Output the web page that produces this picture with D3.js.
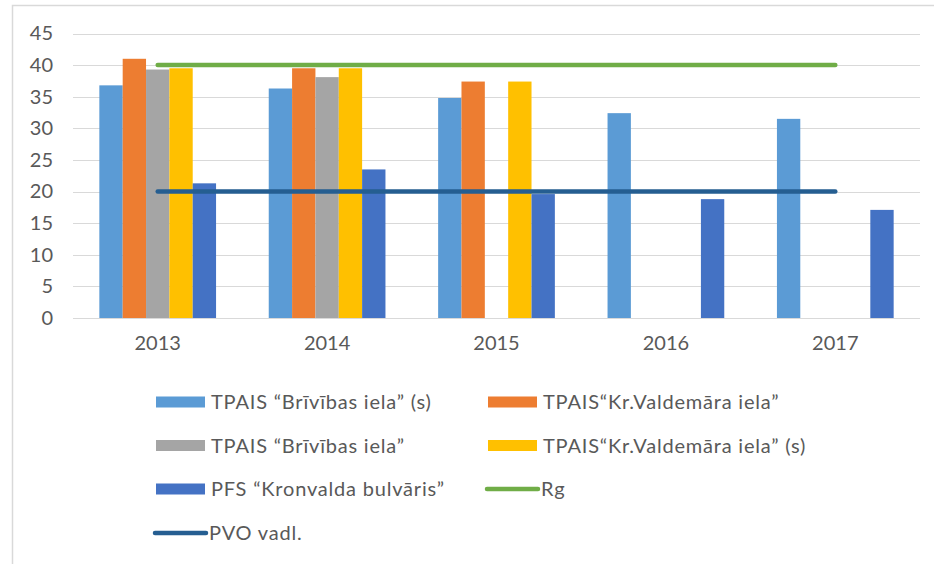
<!DOCTYPE html>
<html>
<head>
<meta charset="utf-8">
<script src="https://cdn.jsdelivr.net/npm/d3@7"></script>
<style>
  html, body { margin: 0; padding: 0; background: #fff; }
  svg { display: block; }
  text { font-family: Lato, "Open Sans", sans-serif; fill: #595959; }
</style>
</head>
<body>
<svg id="chart" width="934" height="564"></svg>
<script>
// ---- data ----
const years = ["2013", "2014", "2015", "2016", "2017"];
const barSeries = [
  "TPAIS \u201CBrīvības iela\u201D (s)",
  "TPAIS\u201CKr.Valdemāra iela\u201D",
  "TPAIS \u201CBrīvības iela\u201D",
  "TPAIS\u201CKr.Valdemāra iela\u201D (s)",
  "PFS \u201CKronvalda bulvāris\u201D"
];
const brivibasS   = [36.8, 36.3, 34.8, 32.4, 31.5];
const valdemara   = [41.0, 39.5, 37.4, null, null];
const brivibas    = [39.3, 38.1, null, null, null];
const valdemaraS  = [39.5, 39.5, 37.4, null, null];
const kronvalda   = [21.3, 23.5, 19.6, 18.8, 17.1];
const barValues = [brivibasS, valdemara, brivibas, valdemaraS, kronvalda];

const lineSeries = ["Rg", "PVO vadl."];
const rgValues  = [40, 40, 40, 40, 40];
const pvoValues = [20, 20, 20, 20, 20];
const lineValues = [rgValues, pvoValues];

const yTicks = [0, 5, 10, 15, 20, 25, 30, 35, 40, 45];

const barColors  = ["#5b9bd5", "#ed7d31", "#a5a5a5", "#ffc000", "#4472c4"];
const lineColors = ["#70ad47", "#255e91"];

// ---- layout ----
const svg = d3.select("#chart");
const plot = { left: 73, right: 920, top: 33.5, bottom: 318 };

// chart border (left + top visible)
svg.append("path")
  .attr("d", "M12.5,564 L12.5,5.5 L934,5.5")
  .attr("fill", "none").attr("stroke", "#d9d9d9").attr("stroke-width", 1.5);

const x = d3.scaleBand().domain(years).range([plot.left, plot.right])
  .paddingInner(0.311).paddingOuter(0.1555);
const xs = d3.scaleBand().domain(d3.range(barSeries.length)).range([0, x.bandwidth()]);
const y = d3.scaleLinear().domain([0, 45]).range([plot.bottom, plot.top]);

// gridlines
svg.append("g").selectAll("line").data(yTicks).join("line")
  .attr("x1", plot.left).attr("x2", plot.right)
  .attr("y1", d => Math.round(y(d)) + 0.5).attr("y2", d => Math.round(y(d)) + 0.5)
  .attr("stroke", "#d9d9d9").attr("stroke-width", 1.2);

// y axis labels
const yAxis = d3.axisLeft(y).tickValues(yTicks).tickSize(0).tickPadding(0);
const gy = svg.append("g").attr("transform", `translate(${plot.left - 20},0)`).call(yAxis);
gy.select(".domain").remove();
gy.selectAll("text").attr("font-size", 20).style("fill", "#595959")
  .style("font-family", "Lato, sans-serif");

// x axis labels
const xAxis = d3.axisBottom(x).tickSize(0).tickPadding(0);
const gx = svg.append("g").attr("transform", `translate(0,${plot.bottom + 18})`).call(xAxis);
gx.select(".domain").remove();
gx.selectAll("text").attr("font-size", 20).style("fill", "#595959")
  .style("font-family", "Lato, sans-serif");

// bars
barValues.forEach((vals, si) => {
  svg.append("g").selectAll("rect")
    .data(years.map((yr, i) => ({ yr, v: vals[i] })).filter(d => d.v != null))
    .join("rect")
    .attr("x", d => x(d.yr) + xs(si))
    .attr("width", xs.bandwidth())
    .attr("y", d => y(d.v))
    .attr("height", d => y(0) - y(d.v))
    .attr("fill", barColors[si]);
});

// lines
const line = d3.line()
  .x((d, i) => x(years[i]) + x.bandwidth() / 2)
  .y(d => y(d));
lineValues.forEach((vals, li) => {
  svg.append("path").datum(vals)
    .attr("d", line)
    .attr("fill", "none")
    .attr("stroke", lineColors[li])
    .attr("stroke-width", 4.5)
    .attr("stroke-linecap", "round");
});

// legend
const legendItems = [
  { name: barSeries[0], type: "bar", color: barColors[0], col: 0, row: 0 },
  { name: barSeries[1], type: "bar", color: barColors[1], col: 1, row: 0 },
  { name: barSeries[2], type: "bar", color: barColors[2], col: 0, row: 1 },
  { name: barSeries[3], type: "bar", color: barColors[3], col: 1, row: 1 },
  { name: barSeries[4], type: "bar", color: barColors[4], col: 0, row: 2 },
  { name: lineSeries[0], type: "line", color: lineColors[0], col: 1, row: 2 },
  { name: lineSeries[1], type: "line", color: lineColors[1], col: 0, row: 3 }
];
const colX = [156, 488];
const rowY = [402, 445.5, 489, 533];
const lg = svg.append("g");
legendItems.forEach(it => {
  const gx0 = colX[it.col], gy0 = rowY[it.row];
  const g = lg.append("g");
  if (it.type === "bar") {
    g.append("rect").attr("x", gx0).attr("y", gy0 - 5.5).attr("width", 49).attr("height", 11)
      .attr("fill", it.color);
    g.append("text").attr("x", gx0 + 55).attr("y", gy0).attr("dy", "0.35em")
      .attr("font-size", 20).attr("letter-spacing", 0.8).text(it.name);
  } else {
    g.append("line").attr("x1", gx0 - 1).attr("x2", gx0 + 50).attr("y1", gy0).attr("y2", gy0)
      .attr("stroke", it.color).attr("stroke-width", 4.5).attr("stroke-linecap", "round");
    g.append("text").attr("x", gx0 + 53).attr("y", gy0).attr("dy", "0.35em")
      .attr("font-size", 20).attr("letter-spacing", 0.8).text(it.name);
  }
});
</script>
</body>
</html>
